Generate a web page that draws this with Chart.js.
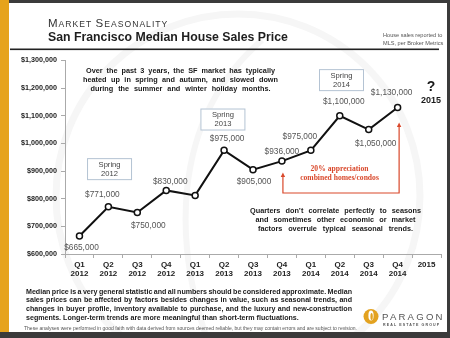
<!DOCTYPE html>
<html>
<head>
<meta charset="utf-8">
<script src="https://cdn.jsdelivr.net/npm/chart.js@4.4.1/dist/chart.umd.min.js"></script>
<style>
  html, body { margin: 0; padding: 0; background: #fff; }
  canvas { display: block; }
</style>
</head>
<body>
<canvas id="seasonChart" width="450" height="338"></canvas>
<script>
// ===============================
// DATA
// ===============================
const quarters = ["Q1", "Q2", "Q3", "Q4", "Q1", "Q2", "Q3", "Q4", "Q1", "Q2", "Q3", "Q4", "2015"];
const years = ["2012", "2012", "2012", "2012", "2013", "2013", "2013", "2013", "2014", "2014", "2014", "2014", ""];
const medianPrice = [665000, 771000, 750000, 830000, 812000, 975000, 905000, 936000, 975000, 1100000, 1050000, 1130000, null];
const priceLabeled = [true, true, true, true, false, true, true, true, true, true, true, true, false];
const yMin = 600000;
const yMax = 1300000;
const yStep = 100000;

// label offsets from each point (dx, dy)
const labelOffsets = [
  [2, 12], [-6, -12], [11, 13], [4, -9], [0, 0], [3, -12],
  [1, 12], [0, -9], [-11, -14], [4, -14], [7, 14], [-6, -15], [0, 0]
];

// season boxes: category index, price level, text
const springBoxes = [
  { idx: 1.04, value: 907000, text: ["Spring", "2012"] },
  { idx: 4.96, value: 1086500, text: ["Spring", "2013"] },
  { idx: 9.06, value: 1229000, text: ["Spring", "2014"] }
];

const noteTop = [
  "Over the past 3 years, the SF market has typically",
  "heated up in spring and autumn, and slowed down",
  "during the summer and winter holiday months."
];
const noteTopWidths = [189, 195, 180];
const noteMid = [
  "Quarters don\u2019t correlate perfectly to seasons",
  "and sometimes other economic or market",
  "factors overrule typical seasonal trends."
];
const noteMidWidths = [171, 160, 155];
const footNote = [
  "Median price is a very general statistic and all numbers should be considered approximate. Median",
  "sales prices can be affected by factors besides changes in value, such as seasonal trends, and",
  "changes in buyer profile, inventory available to purchase, and the luxury and new-construction",
  "segments. Longer-term trends are more meaningful than short-term fluctuations."
];
const disclaimer = "These analyses were performed in good faith with data derived from sources deemed reliable, but they may contain errors and are subject to revision.";

const SANS = '"Liberation Sans", Arial, sans-serif';

function money(v) {
  return "$" + Number(v).toLocaleString("en-US");
}

function justify(ctx, text, x, y, width) {
  const words = text.split(" ");
  const sizes = words.map((w) => ctx.measureText(w).width);
  const total = sizes.reduce((a, b) => a + b, 0);
  const gap = (width - total) / (words.length - 1);
  let cx = x;
  ctx.textAlign = "left";
  words.forEach((w, i) => {
    ctx.fillText(w, cx, y);
    cx += sizes[i] + gap;
  });
}

function centeredBlock(ctx, lines, widths, cx, y0, lh) {
  lines.forEach((line, i) => {
    justify(ctx, line, cx - widths[i] / 2, y0 + i * lh, widths[i]);
  });
}

// ===============================
// FRAME + HEADER (under the chart)
// ===============================
const framePlugin = {
  id: "frame",
  beforeDraw(chart) {
    const ctx = chart.ctx;
    ctx.save();
    ctx.fillStyle = "#ffffff";
    ctx.fillRect(0, 0, 450, 338);

    // faint logo watermark
    ctx.strokeStyle = "#f6f6f6";
    ctx.lineWidth = 7;
    ctx.beginPath();
    ctx.arc(238, 196, 182, 0, Math.PI * 2);
    ctx.stroke();
    ctx.lineWidth = 6;
    ctx.beginPath();
    ctx.moveTo(262, 40);
    ctx.bezierCurveTo(170, 120, 170, 250, 215, 360);
    ctx.stroke();

    // borders
    ctx.fillStyle = "#3b3b3b";
    ctx.fillRect(0, 0, 450, 3);
    ctx.fillRect(447, 0, 3, 338);
    ctx.fillRect(0, 332, 450, 6);
    ctx.fillStyle = "#e6a31c";
    ctx.fillRect(0, 0, 9, 332);

    // title
    ctx.fillStyle = "#333";
    ctx.textBaseline = "alphabetic";
    ctx.textAlign = "left";
    let x = 48;
    const parts = [["M", 11.5], ["ARKET ", 8.6], ["S", 11.5], ["EASONALITY", 8.6]];
    if ("letterSpacing" in ctx) ctx.letterSpacing = "1px";
    parts.forEach(([t, s]) => {
      ctx.font = s + "px " + SANS;
      ctx.fillText(t, x, 26.5);
      x += ctx.measureText(t).width;
    });
    if ("letterSpacing" in ctx) ctx.letterSpacing = "0px";

    ctx.fillStyle = "#1e1e1e";
    ctx.font = "bold 12.3px " + SANS;
    ctx.fillText("San Francisco Median House Sales Price", 48, 40.5);

    ctx.fillStyle = "#555";
    ctx.font = "5.6px " + SANS;
    ctx.fillText("House sales reported to", 383, 36.5);
    ctx.fillText("MLS, per Broker Metrics", 383, 44.5);

    ctx.fillStyle = "#222";
    ctx.fillRect(10, 48.5, 429, 1.6);
    ctx.restore();
  }
};

// ===============================
// NOTES, LABELS, FOOTER (over the chart)
// ===============================
const notesPlugin = {
  id: "notes",
  afterDatasetsDraw(chart) {
    const ctx = chart.ctx;
    const xs = chart.scales.x;
    const ys = chart.scales.y;
    const meta = chart.getDatasetMeta(0);
    ctx.save();

    // spring boxes
    springBoxes.forEach((b) => {
      const cx = xs.getPixelForValue(b.idx);
      const cy = ys.getPixelForValue(b.value);
      ctx.fillStyle = "#fff";
      ctx.fillRect(cx - 22.5, cy - 11, 45, 22);
      ctx.strokeStyle = "#b4c3d3";
      ctx.lineWidth = 1;
      ctx.strokeRect(cx - 22.5 + 0.5, cy - 11 + 0.5, 44, 21);
      ctx.fillStyle = "#444";
      ctx.font = "7.6px " + SANS;
      ctx.textAlign = "center";
      ctx.textBaseline = "middle";
      ctx.fillText(b.text[0], cx, cy - 4.5);
      ctx.fillText(b.text[1], cx, cy + 4.5);
    });

    // value labels
    ctx.font = "8.3px " + SANS;
    ctx.fillStyle = "#555";
    ctx.textAlign = "center";
    ctx.textBaseline = "middle";
    meta.data.forEach((pt, i) => {
      if (!priceLabeled[i] || medianPrice[i] == null) return;
      const [dx, dy] = labelOffsets[i];
      ctx.fillText(money(medianPrice[i]), pt.x + dx, pt.y + dy);
    });

    // text blocks
    ctx.fillStyle = "#1a1a1a";
    ctx.font = "bold 7.3px " + SANS;
    ctx.textBaseline = "middle";
    centeredBlock(ctx, noteTop, noteTopWidths, 180.5, 71, 9.2);
    centeredBlock(ctx, noteMid, noteMidWidths, 335.5, 211, 9.2);

    // 2015 question mark
    const qx = xs.getPixelForValue(12) + 4.5;
    ctx.textAlign = "center";
    ctx.font = "bold 14px " + SANS;
    ctx.fillText("?", qx, 87.5);
    ctx.font = "bold 9px " + SANS;
    ctx.fillText("2015", qx, 100.5);

    // appreciation bracket
    const red = "#d9482b";
    const a = meta.data[7];
    const b = meta.data[11];
    const bottom = 193;
    ctx.strokeStyle = red;
    ctx.fillStyle = red;
    ctx.lineWidth = 1.2;
    ctx.beginPath();
    ctx.moveTo(a.x + 1, a.y + 14);
    ctx.lineTo(a.x + 1, bottom);
    ctx.lineTo(b.x + 1.5, bottom);
    ctx.lineTo(b.x + 1.5, b.y + 18);
    ctx.stroke();
    [[a.x + 1, a.y + 11.5], [b.x + 1.5, b.y + 15]].forEach(([ax, ay]) => {
      ctx.beginPath();
      ctx.moveTo(ax, ay);
      ctx.lineTo(ax - 2.2, ay + 4.5);
      ctx.lineTo(ax + 2.2, ay + 4.5);
      ctx.closePath();
      ctx.fill();
    });
    ctx.font = "bold 7.6px \"Liberation Serif\", \"Times New Roman\", serif";
    ctx.textAlign = "center";
    ctx.fillText("20% appreciation", 339.5, 169);
    ctx.fillText("combined homes/condos", 339.5, 177.7);

    // footer
    ctx.fillStyle = "#1a1a1a";
    ctx.font = "bold 7.1px " + SANS;
    ctx.textBaseline = "middle";
    footNote.forEach((line, i) => {
      const y = 291.8 + i * 8.7;
      if (i < footNote.length - 1) {
        justify(ctx, line, 26, y, 326);
      } else {
        ctx.textAlign = "left";
        ctx.fillText(line, 26, y);
      }
    });
    ctx.fillStyle = "#555";
    ctx.font = "4.9px " + SANS;
    ctx.textAlign = "left";
    const dw = ctx.measureText(disclaimer).width;
    ctx.save();
    ctx.translate(24, 329);
    ctx.scale(333 / dw, 1);
    ctx.fillText(disclaimer, 0, 0);
    ctx.restore();

    // logo
    ctx.fillStyle = "#e3a21f";
    ctx.beginPath();
    ctx.arc(371, 316.5, 7.5, 0, Math.PI * 2);
    ctx.fill();
    ctx.fillStyle = "#fff";
    ctx.beginPath();
    ctx.ellipse(371, 315.5, 2.6, 5, 0, 0, Math.PI * 2);
    ctx.fill();
    ctx.fillStyle = "#e3a21f";
    ctx.beginPath();
    ctx.ellipse(371.6, 316.5, 1.2, 3.5, 0, 0, Math.PI * 2);
    ctx.fill();

    ctx.fillStyle = "#555";
    if ("letterSpacing" in ctx) ctx.letterSpacing = "2.2px";
    ctx.font = "9.6px " + SANS;
    ctx.textBaseline = "alphabetic";
    ctx.fillText("PARAGON", 382, 319.5);
    if ("letterSpacing" in ctx) ctx.letterSpacing = "1.1px";
    ctx.font = "bold 3.6px " + SANS;
    ctx.fillText("REAL ESTATE GROUP", 383, 325.5);
    if ("letterSpacing" in ctx) ctx.letterSpacing = "0px";

    ctx.restore();
  }
};

// ===============================
// CHART
// ===============================
const ctx = document.getElementById("seasonChart").getContext("2d");

new Chart(ctx, {
  type: "line",
  data: {
    labels: quarters.map((q, i) => (years[i] ? [q, years[i]] : q)),
    datasets: [
      {
        label: "Median House Sales Price",
        data: medianPrice,
        borderColor: "#111",
        borderWidth: 2,
        pointRadius: 3,
        pointBorderWidth: 1.5,
        pointBackgroundColor: "#fff",
        pointBorderColor: "#111",
        tension: 0,
        spanGaps: false,
      },
    ],
  },
  options: {
    responsive: false,
    devicePixelRatio: 1,
    animation: false,
    layout: { padding: { top: 60.5, left: 0, right: 9, bottom: 54 } },
    plugins: {
      legend: { display: false },
      tooltip: { enabled: false },
    },
    scales: {
      x: {
        offset: true,
        afterFit: (s) => { s.height = 30; },
        grid: { offset: true, drawOnChartArea: false, tickLength: 4, color: "#aaa" },
        border: { color: "#aaa", width: 1 },
        ticks: {
          padding: 2,
          maxRotation: 0,
          autoSkip: false,
          color: "#222",
          font: { family: SANS, size: 8, weight: "bold", lineHeight: 1.15 },
        },
      },
      y: {
        min: yMin,
        max: yMax,
        afterFit: (s) => { s.width = 65; },
        grid: { drawOnChartArea: false, tickLength: 4, color: "#aaa" },
        border: { color: "#aaa", width: 1 },
        ticks: {
          stepSize: yStep,
          padding: 4,
          color: "#222",
          font: { family: SANS, size: 7.2, weight: "bold" },
          callback: (v) => money(v),
        },
      },
    },
  },
  plugins: [framePlugin, notesPlugin],
});
</script>
</body>
</html>
